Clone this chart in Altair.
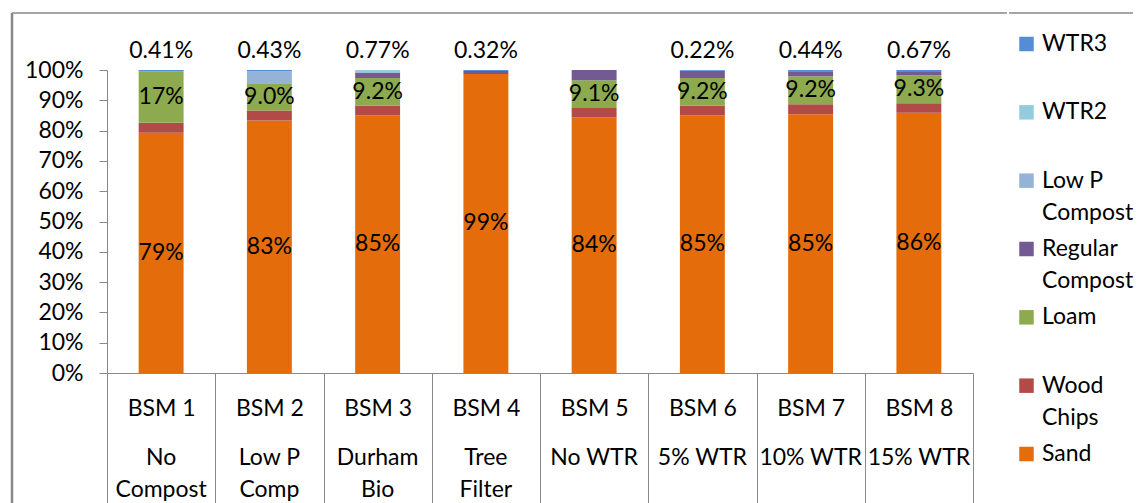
import altair as alt
import pandas as pd

# ---------------- data ----------------
bsm = ["BSM 1", "BSM 2", "BSM 3", "BSM 4", "BSM 5", "BSM 6", "BSM 7", "BSM 8"]
sub_labels = ["No\nCompost", "Low P\nComp", "Durham\nBio", "Tree\nFilter",
              "No WTR", "5% WTR", "10% WTR", "15% WTR"]

# stacking order, bottom to top
series = ["Sand", "Wood Chips", "Loam", "Regular Compost", "Low P Compost", "WTR2", "WTR3"]

sand    = [79.3, 83.3, 85.0, 98.7, 84.3, 85.0, 85.4, 85.9]
wood    = [3.3, 3.3, 3.2, 0.0, 3.2, 3.2, 3.3, 3.1]
loam    = [17.0, 9.0, 9.2, 0.0, 9.1, 9.2, 9.2, 9.3]
regular = [0.0, 0.0, 1.8, 0.98, 3.4, 2.38, 1.66, 1.03]
low_p   = [0.0, 3.97, 0.0, 0.0, 0.0, 0.0, 0.0, 0.0]
wtr2    = [0.0, 0.0, 0.77, 0.0, 0.0, 0.0, 0.0, 0.0]
wtr3    = [0.41, 0.43, 0.0, 0.32, 0.0, 0.22, 0.44, 0.67]

colors = ["#E46C0A", "#B24A47", "#8EAA4F", "#735A93", "#95B3D7", "#93CDDD", "#548DD4"]

legend_order = ["WTR3", "WTR2", "Low P Compost", "Regular Compost", "Loam", "Wood Chips", "Sand"]
legend_labels = ["WTR3", "WTR2", "Low P\nCompost", "Regular\nCompost", "Loam", "Wood\nChips", "Sand"]

# ---------------- table ----------------
values = [sand, wood, loam, regular, low_p, wtr2, wtr3]
rows = []
for si, (s, vals) in enumerate(zip(series, values)):
    for b, v in zip(bsm, vals):
        rows.append({"bsm": b, "series": s, "order": si, "value": v / 100.0})
df = pd.DataFrame(rows)
sub_df = pd.DataFrame({"bsm": bsm, "sub": sub_labels})
leg_df = pd.DataFrame({"series": legend_order, "label": legend_labels})

FONT = "Lato"
FS = 23
GRAY = "#888888"
W, H = 866, 303

color_scale = alt.Scale(domain=series, range=colors)
x_scale = alt.Scale(domain=bsm, paddingInner=0, paddingOuter=0)
y_scale = alt.Scale(domain=[0, 1])
x_axis = alt.Axis(labelAngle=0, tickBand="extent", tickSize=132,
                  labelPadding=-97, labelBaseline="middle", title=None,
                  domainColor=GRAY, tickColor=GRAY)
y_axis = alt.Axis(values=[i / 10 for i in range(11)], format=".0%", title=None,
                  tickSize=8, labelPadding=16, grid=False,
                  domainColor=GRAY, tickColor=GRAY)


def xe():
    return alt.X("bsm:N", scale=x_scale, sort=bsm, axis=x_axis)


def ye(field):
    return alt.Y(field, scale=y_scale, axis=y_axis)


base = alt.Chart(df).transform_stack(
    stack="value", groupby=["bsm"], as_=["y0", "y1"],
    sort=[alt.SortField("order", order="ascending")]
).transform_calculate(mid="(datum.y0 + datum.y1) / 2")

bars = base.mark_bar(width=alt.RelativeBandSize(0.415)).encode(
    x=xe(),
    y=ye("y0:Q"),
    y2="y1:Q",
    color=alt.Color("series:N", scale=color_scale, legend=None),
)

inner_labels = base.transform_filter(
    "(datum.series == 'Sand' || datum.series == 'Loam') && datum.value > 0"
).mark_text(font=FONT, fontSize=FS, baseline="middle", color="black").encode(
    x=xe(),
    y=ye("mid:Q"),
    text=alt.Text("value:Q", format=".2p"),
)

top_labels = base.transform_filter(
    "(datum.series == 'WTR2' || datum.series == 'WTR3') && datum.value > 0"
).mark_text(font=FONT, fontSize=FS, baseline="middle", dy=-19, color="black").encode(
    x=xe(),
    y=ye("y1:Q"),
    text=alt.Text("value:Q", format=".2p"),
)

sub_text = alt.Chart(sub_df).mark_text(
    font=FONT, fontSize=FS, baseline="top", lineBreak="\n", lineHeight=32, color="black"
).encode(
    x=xe(),
    y=alt.value(H + 74),
    text="sub:N",
)

frame_df = pd.DataFrame({"k": [0]})
frame_left = alt.Chart(frame_df).mark_rule(color=GRAY, strokeWidth=2.5).encode(
    x=alt.value(-95), y=alt.value(-57), y2=alt.value(H + 140))
frame_top = alt.Chart(frame_df).mark_rule(color=GRAY, strokeWidth=1.3).encode(
    x=alt.value(-95), x2=alt.value(900), y=alt.value(-57))

main = alt.layer(bars, inner_labels, top_labels, sub_text, frame_left, frame_top).properties(
    width=W, height=H)

# ---------------- legend panel ----------------
leg_y = alt.Y("series:N", sort=legend_order,
              scale=alt.Scale(domain=legend_order, type="point", padding=0, range=[-26, 384]),
              axis=None)
leg_sq = alt.Chart(leg_df).mark_square(size=210, opacity=1).encode(
    x=alt.value(7.5), y=leg_y,
    color=alt.Color("series:N", scale=color_scale, legend=None))
leg_txt = alt.Chart(leg_df).mark_text(
    font=FONT, fontSize=FS, align="left", baseline="top", dy=-11,
    lineBreak="\n", lineHeight=32, color="black"
).encode(x=alt.value(23), y=leg_y, text="label:N")
leg_top = alt.Chart(frame_df).mark_rule(color=GRAY, strokeWidth=1.3).encode(
    x=alt.value(-10), x2=alt.value(114), y=alt.value(-57))

legend = alt.layer(leg_top, leg_sq, leg_txt).properties(width=114, height=H)

chart = alt.hconcat(main, legend, spacing=0).properties(
    padding={"left": 2, "top": 3, "right": 0, "bottom": 0}
).configure_view(stroke=None).configure_axis(
    labelFont=FONT, labelFontSize=FS, labelColor="black"
)

chart.save("out.html", embed_options={"renderer": "svg", "actions": False})
